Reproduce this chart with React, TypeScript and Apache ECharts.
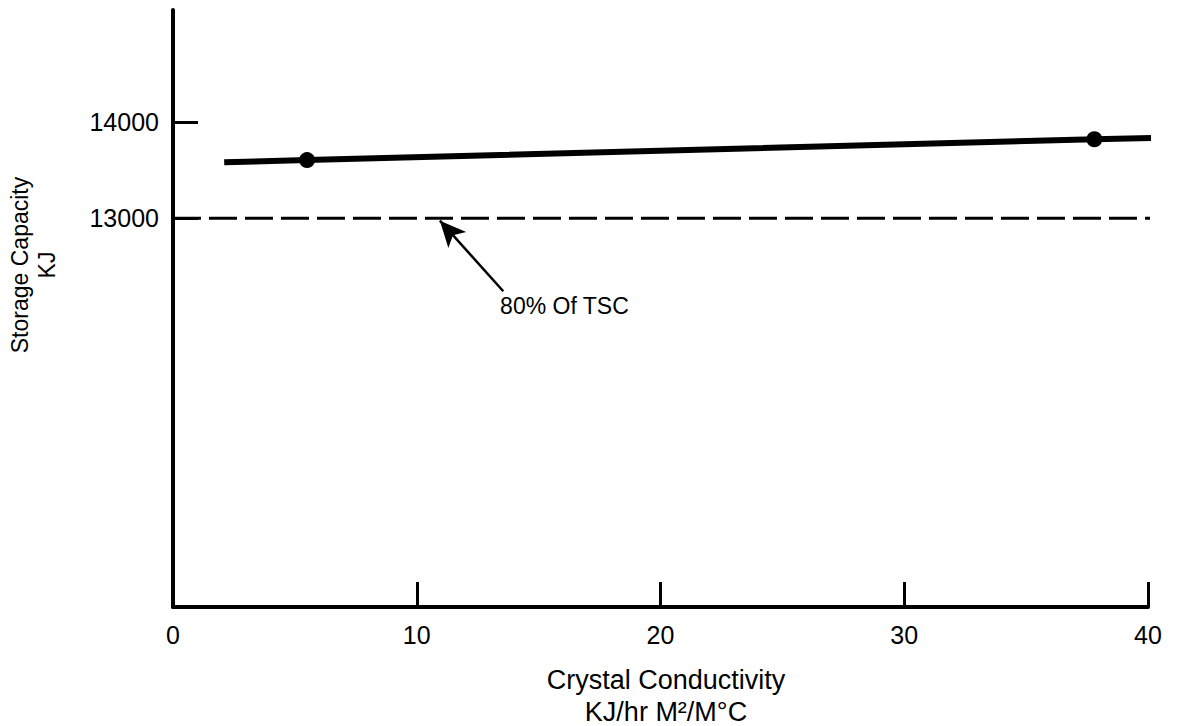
import React, { useEffect, useRef } from "react";
import * as echarts from "echarts";

// Data
const xTickValues = [0, 10, 20, 30, 40];
const yTickValues = [13000, 14000];
const capacityLine: [number, number][] = [
  [2.1, 13583],
  [5.5, 13606],
  [37.8, 13823],
  [41.35, 13844],
];
const measuredPoints: [number, number][] = [
  [5.5, 13606],
  [37.8, 13823],
];
const tscLevel = 13000;
const tscLine: [number, number][] = [
  [0, tscLevel],
  [41.5, tscLevel],
];
const arrowTail: [number, number] = [13.55, 12240];
const arrowTip: [number, number] = [10.95, 12975];
const annotationPos: [number, number] = [13.42, 12085];
const annotationText = "80% Of TSC";
const xTitle = "Crystal Conductivity\nKJ/hr M²/M°C";
const yTitle = "Storage Capacity\nKJ";

const FONT = "Liberation Sans, Arial, Helvetica, sans-serif";

export default function App() {
  const ref = useRef<HTMLDivElement>(null);
  useEffect(() => {
    if (!ref.current) return;
    const chart = echarts.init(ref.current, null, { renderer: "svg" });
    chart.setOption({
      animation: false,
      backgroundColor: "#fff",
      grid: { left: 173, right: 38, top: 10, bottom: 119 },
      xAxis: {
        type: "value",
        min: 0,
        max: 40,
        interval: 10,
        splitLine: { show: false },
        axisLine: { show: true, onZero: false, lineStyle: { color: "#000", width: 4 } },
        axisTick: {
          show: true,
          inside: true,
          length: 25,
          customValues: [10, 20, 30, 40],
          lineStyle: { color: "#000", width: 3 },
        },
        axisLabel: {
          customValues: xTickValues,
          formatter: (v: number) => String(v),
          color: "#000",
          fontSize: 25,
          fontFamily: FONT,
          margin: 15,
        },
      },
      yAxis: {
        type: "value",
        min: 8950,
        max: 15170,
        splitLine: { show: false },
        axisLine: { show: true, onZero: false, lineStyle: { color: "#000", width: 4 } },
        axisTick: {
          show: true,
          inside: true,
          length: 25,
          customValues: yTickValues,
          lineStyle: { color: "#000", width: 3 },
        },
        axisLabel: {
          customValues: yTickValues,
          formatter: (v: number) => String(v),
          color: "#000",
          fontSize: 25,
          fontFamily: FONT,
          margin: 14,
        },
      },
      series: [
        {
          type: "line",
          data: tscLine,
          symbol: "none",
          clip: false,
          lineStyle: { color: "#000", width: 3, type: [28, 8] },
          markLine: {
            silent: true,
            symbol: ["none", "arrow"],
            symbolSize: [18, 26],
            lineStyle: { color: "#000", width: 2.5, type: "solid" },
            label: { show: false },
            data: [[{ coord: arrowTail }, { coord: arrowTip }]],
          },
          markPoint: {
            silent: true,
            symbol: "circle",
            symbolSize: 0,
            label: {
              show: true,
              position: "right",
              distance: 0,
              formatter: annotationText,
              color: "#000",
              fontSize: 23,
              fontFamily: FONT,
            },
            data: [{ coord: annotationPos }],
          },
        },
        {
          type: "line",
          data: capacityLine,
          symbol: "none",
          clip: false,
          lineStyle: { color: "#000", width: 6 },
        },
        {
          type: "scatter",
          data: measuredPoints,
          symbol: "circle",
          symbolSize: 16,
          clip: false,
          itemStyle: { color: "#000", opacity: 1 },
        },
      ],
      graphic: [
        {
          type: "text",
          x: 666,
          y: 696,
          style: {
            text: xTitle,
            fill: "#000",
            font: `27px ${FONT}`,
            align: "center",
            verticalAlign: "middle",
            lineHeight: 32,
          },
        },
        {
          type: "text",
          x: 33,
          y: 265,
          rotation: Math.PI / 2,
          style: {
            text: yTitle,
            fill: "#000",
            font: `23px ${FONT}`,
            align: "center",
            verticalAlign: "middle",
            lineHeight: 27,
          },
        },
      ],
    });
    return () => chart.dispose();
  }, []);
  return (
    <div
      ref={ref}
      style={{ position: "absolute", left: 0, top: 0, width: 1186, height: 726 }}
    />
  );
}
